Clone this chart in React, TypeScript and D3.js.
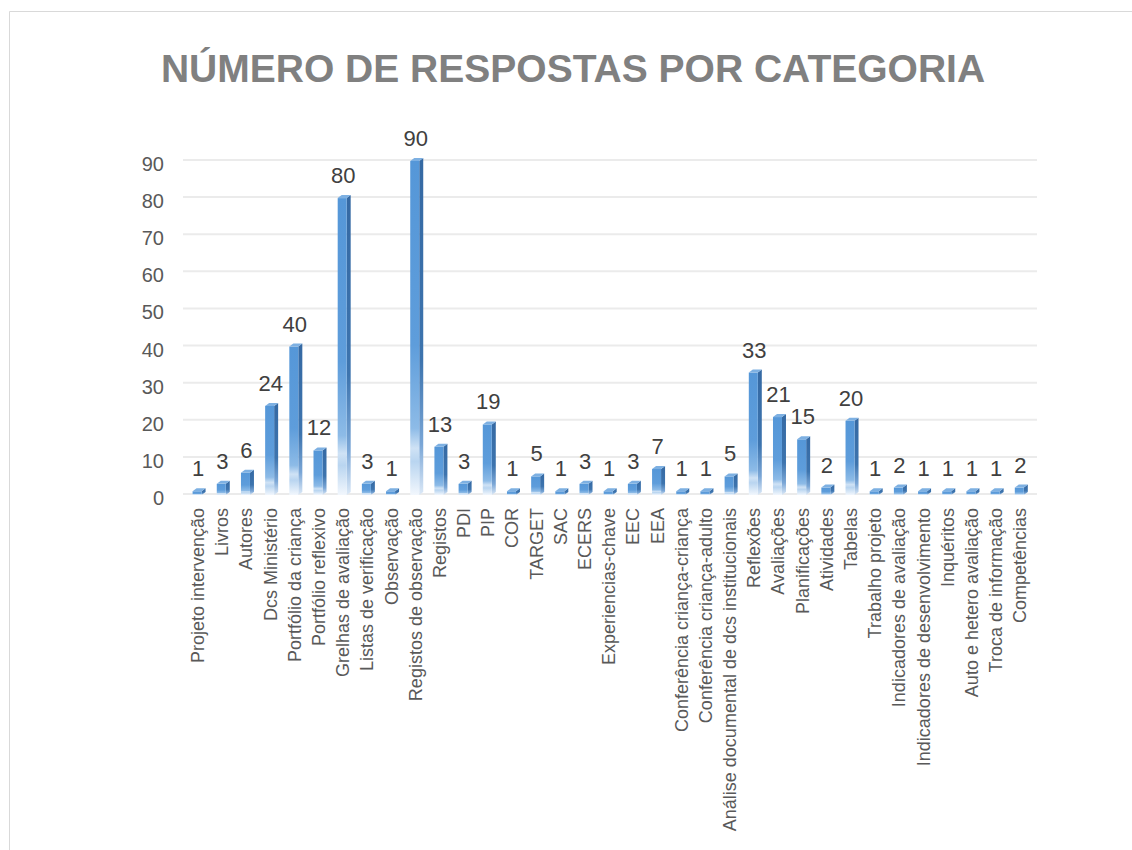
import React from "react";
import * as d3 from "d3";

const categories: string[] = [
  "Projeto intervenção", "Livros", "Autores", "Dcs Ministério", "Portfólio da criança",
  "Portfólio reflexivo", "Grelhas de avaliação", "Listas de verificação", "Observação",
  "Registos de observação", "Registos", "PDI", "PIP", "COR", "TARGET", "SAC", "ECERS",
  "Experiencias-chave", "EEC", "EEA", "Conferência criança-criança", "Conferência criança-adulto",
  "Análise documental de dcs institucionais", "Reflexões", "Avaliações", "Planificações",
  "Atividades", "Tabelas", "Trabalho projeto", "Indicadores de avaliação",
  "Indicadores de desenvolvimento", "Inquéritos", "Auto e hetero avaliação",
  "Troca de informação", "Competências",
];
const values: number[] = [
  1, 3, 6, 24, 40, 12, 80, 3, 1, 90, 13, 3, 19, 1, 5, 1, 3, 1, 3, 7, 1, 1, 5, 33, 21, 15, 2, 20,
  1, 2, 1, 1, 1, 1, 2,
];
const yTicks: number[] = [0, 10, 20, 30, 40, 50, 60, 70, 80, 90];
const title = "NÚMERO DE RESPOSTAS POR CATEGORIA";

const FONT = "'Liberation Sans', Arial, sans-serif";

export default function App() {
  const W = 1132, H = 850;
  const x = d3.scaleBand<string>().domain(categories).range([186, 1032.4]).paddingInner(0).paddingOuter(0);
  const y = d3.scaleLinear().domain([0, 90]).range([495, 161]);
  const bw = 9, dx = 4, dy = 3;

  return (
    <svg width={W} height={H} style={{ position: "absolute", left: 0, top: 0, background: "#fff" }} fontFamily={FONT}>
      <defs>
        <linearGradient id="front" x1="0" y1="0" x2="0" y2="1">
          <stop offset="0" stopColor="#5597d8" />
          <stop offset="0.55" stopColor="#5e9ddb" />
          <stop offset="0.8" stopColor="#8dbbe7" />
          <stop offset="0.86" stopColor="#cfe2f5" />
          <stop offset="0.9" stopColor="#b9d5f0" />
          <stop offset="1" stopColor="#f2f7fd" />
        </linearGradient>
        <linearGradient id="side" x1="0" y1="0" x2="0" y2="1">
          <stop offset="0" stopColor="#3569a3" />
          <stop offset="0.6" stopColor="#3d74ae" />
          <stop offset="0.85" stopColor="#7aa6d6" />
          <stop offset="1" stopColor="#dce9f7" />
        </linearGradient>
      </defs>
      {/* outer border */}
      <line x1={9.5} y1={11.5} x2={W} y2={11.5} stroke="#d9d9d9" strokeWidth={1} />
      <line x1={9.5} y1={11.5} x2={9.5} y2={H} stroke="#d9d9d9" strokeWidth={1} />

      <text x={573} y={82} textAnchor="middle" fontSize={39} fontWeight="bold" fill="#808080">
        {title}
      </text>

      {/* gridlines */}
      {yTicks.map((t) => (
        <g key={t}>
          <line x1={183} x2={1037} y1={y(t) - 1} y2={y(t) - 1} stroke="#ebebeb" strokeWidth={2} />
          <text x={164} y={y(t) + 10} textAnchor="end" fontSize={20} fill="#595959">
            {t}
          </text>
        </g>
      ))}

      {/* bars */}
      {categories.map((c, i) => {
        const v = values[i];
        const cx = (x(c) as number) + x.bandwidth() / 2;
        const x0 = cx - bw / 2 - 1;
        const top = y(v);
        const base = y(0);
        const h = Math.max(base - top, 0.5);
        const side = `M${x0 + bw},${top} L${x0 + bw + dx},${top - dy} L${x0 + bw + dx},${base - dy} L${x0 + bw},${base} Z`;
        const topFace = `M${x0},${top} L${x0 + dx},${top - dy} L${x0 + bw + dx},${top - dy} L${x0 + bw},${top} Z`;
        return (
          <g key={c}>
            <path d={side} fill="url(#side)" />
            <rect x={x0} y={top} width={bw} height={h} fill="url(#front)" />
            <path d={topFace} fill="#7db0e2" />
            <text x={cx} y={top - 15} textAnchor="middle" fontSize={22} fill="#404040">
              {v}
            </text>
            <text
              transform={`translate(${cx + 6},508) rotate(-90)`}
              textAnchor="end"
              fontSize={18}
              fill="#595959"
            >
              {c}
            </text>
          </g>
        );
      })}
    </svg>
  );
}
